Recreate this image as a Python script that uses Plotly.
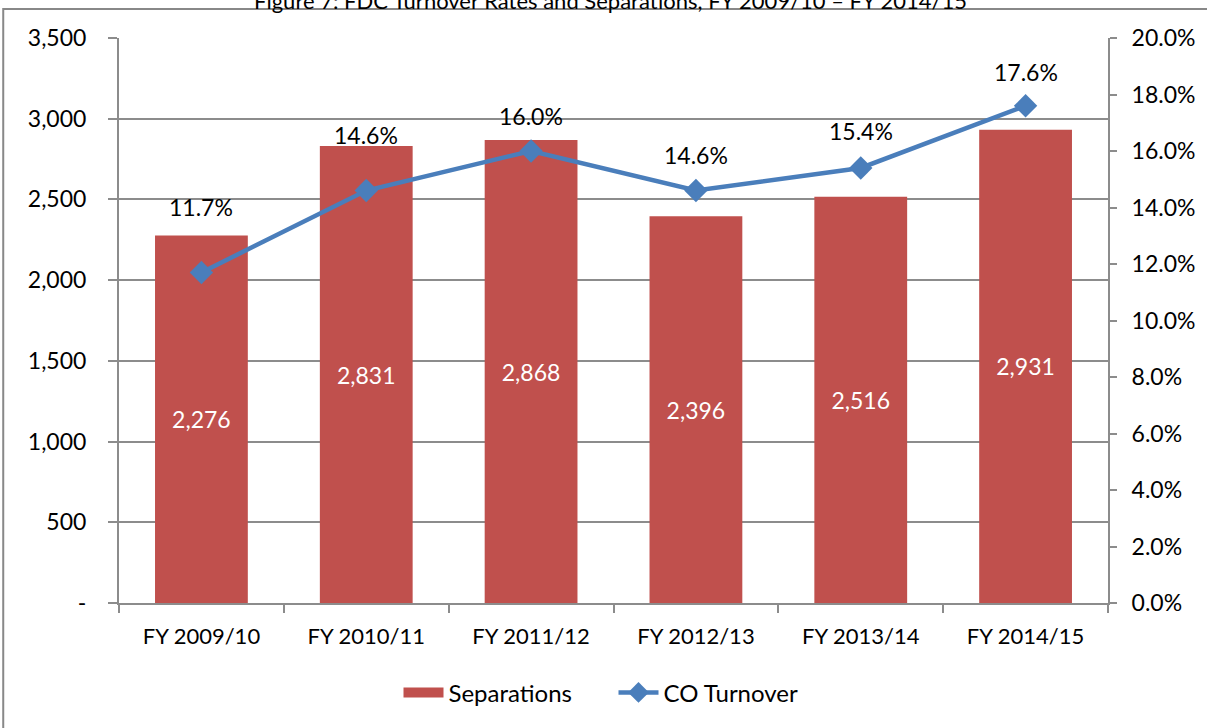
import plotly.graph_objects as go

categories = ["FY 2009/10", "FY 2010/11", "FY 2011/12", "FY 2012/13", "FY 2013/14", "FY 2014/15"]
separations = [2276, 2831, 2868, 2396, 2516, 2931]
turnover = [0.117, 0.146, 0.160, 0.146, 0.154, 0.176]
left_tick_vals = [0, 500, 1000, 1500, 2000, 2500, 3000, 3500]
left_tick_text = ["-", "500", "1,000", "1,500", "2,000", "2,500", "3,000", "3,500"]
right_tick_vals = [0, 0.02, 0.04, 0.06, 0.08, 0.10, 0.12, 0.14, 0.16, 0.18, 0.20]
label_offsets = [65, 56, 35, 36, 37, 34]

FONT = "Lato"
BAR_C = "#C0504D"
LINE_C = "#4A7EBB"
AXIS_C = "#8C8C8C"

fig = go.Figure()
fig.add_trace(go.Bar(
    x=categories, y=separations, name="Separations", showlegend=False,
    marker=dict(color=BAR_C, line=dict(width=0)),
    texttemplate="%{y:,}", textposition="inside", insidetextanchor="middle",
    textfont=dict(color="white", size=23, family=FONT),
    yaxis="y",
))
# legend entry for the bars (wide swatch like the reference)
fig.add_trace(go.Scatter(
    x=[None], y=[None], name="Separations", mode="lines",
    line=dict(color=BAR_C, width=15), yaxis="y",
))
fig.add_trace(go.Scatter(
    x=categories, y=turnover, name="CO Turnover", mode="lines+markers",
    line=dict(color=LINE_C, width=4.5),
    marker=dict(symbol="diamond", size=18, color=LINE_C),
    yaxis="y2",
))

annotations = []
for c, v, off in zip(categories, turnover, label_offsets):
    annotations.append(dict(
        x=c, y=v, xref="x", yref="y2", text=f"{v*100:.1f}%", showarrow=False,
        yshift=off, font=dict(size=23, family=FONT, color="black"),
    ))
annotations.append(dict(
    x=0.497, y=1, xref="paper", yref="paper", yanchor="middle",
    yshift=38, showarrow=False,
    text="Figure 7: FDC Turnover Rates and Separations, FY 2009/10 \u2013 FY 2014/15",
    font=dict(size=22, family=FONT, color="black"),
))

fig.update_layout(
    width=1207, height=728,
    margin=dict(l=119, r=97, t=38, b=125),
    paper_bgcolor="white", plot_bgcolor="white",
    font=dict(family=FONT, size=22, color="black"),
    bargap=0.437,
    showlegend=True,
    legend=dict(orientation="h", x=0.5, xanchor="center", y=-0.159, yanchor="middle",
                font=dict(size=24, family=FONT), itemwidth=40, traceorder="normal",
                entrywidth=160),
    xaxis=dict(
        type="category", showline=True, linecolor=AXIS_C, linewidth=2,
        ticks="outside", tickson="boundaries", ticklen=8, tickcolor=AXIS_C, tickwidth=2,
        tickfont=dict(size=22, family=FONT), showgrid=False, ticklabelstandoff=13,
    ),
    yaxis=dict(
        range=[0, 3500], tickvals=left_tick_vals, ticktext=left_tick_text,
        showline=True, linecolor=AXIS_C, linewidth=2,
        ticks="outside", ticklen=9, tickcolor=AXIS_C, tickwidth=2,
        showgrid=True, gridcolor=AXIS_C, gridwidth=1.5, zeroline=False,
        tickfont=dict(size=23, family=FONT), ticklabelstandoff=17,
    ),
    yaxis2=dict(
        range=[0, 0.2], tickvals=right_tick_vals, tickformat=".1%",
        overlaying="y", side="right", showline=True, linecolor=AXIS_C, linewidth=2,
        ticks="outside", ticklen=7, tickcolor=AXIS_C, tickwidth=2,
        showgrid=False, zeroline=False, tickfont=dict(size=23, family=FONT),
        ticklabelstandoff=10,
    ),
    annotations=annotations,
    shapes=[dict(type="rect", xref="paper", yref="paper",
                 x0=(3 - 119) / 991, x1=(1215 - 119) / 991,
                 y0=(603 - 740) / 565, y1=(603 - 9) / 565,
                 line=dict(color="#888888", width=2), fillcolor="rgba(0,0,0,0)", layer="below")],
)

fig.write_html(
    "out.html",
    config={"displayModeBar": False},
    post_script="document.body.style.margin='0';document.body.style.overflow='hidden';",
)
